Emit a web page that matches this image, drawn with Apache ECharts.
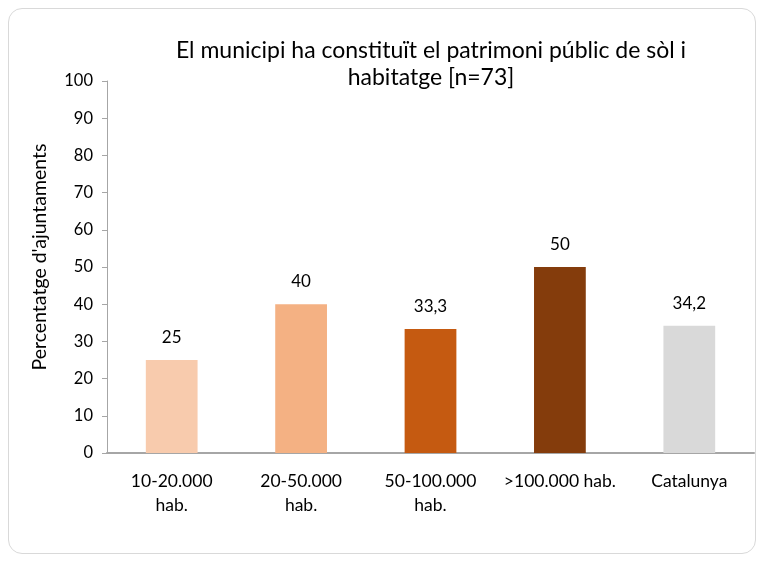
<!DOCTYPE html>
<html>
<head>
<meta charset="utf-8">
<script src="https://cdn.jsdelivr.net/npm/echarts@6/dist/echarts.min.js"></script>
<style>
    html,body{margin:0;padding:0;background:#fff;}
    #frame{position:absolute;left:8px;top:8px;width:746px;height:544px;border:1px solid #d9d9d9;border-radius:14px;}
    #chart{position:absolute;left:0;top:0;width:758px;height:561px;}
</style>
</head>
<body>
<div id="frame"></div>
<div id="chart"></div>
<script>
var categories = ["10-20.000\nhab.", "20-50.000\nhab.", "50-100.000\nhab.", ">100.000 hab.", "Catalunya"];
var values = [25, 40, 33.3, 50, 34.2];
var barColors = ["#F8CBAD", "#F4B183", "#C55A11", "#843C0C", "#D9D9D9"];
var yTicks = [0, 10, 20, 30, 40, 50, 60, 70, 80, 90, 100];

var fontName = "Lato";
var chart = echarts.init(document.getElementById('chart'));

var seriesData = [];
for(var i=0;i<values.length;i++){
    seriesData.push({value: values[i], itemStyle: {color: barColors[i]}});
}

var option = {
    animation: false,
    textStyle: {fontFamily: fontName},
    title: {
        text: "El municipi ha constituït el patrimoni públic de sòl i\nhabitatge [n=73]",
        left: 426,
        top: 32,
        textAlign: 'center',
        textStyle: {fontSize: 23, fontWeight: 'normal', color: '#000', lineHeight: 27, fontFamily: fontName}
    },
    grid: {left: 107, right: 4, top: 81, bottom: 108},
    xAxis: {
        type: 'category',
        data: categories,
        axisLine: {lineStyle: {color: '#a6a6a6', width: 2}},
        axisTick: {show: false},
        axisLabel: {fontSize: 17.5, color: '#000', margin: 16, lineHeight: 24, interval: 0}
    },
    yAxis: {
        type: 'value',
        min: yTicks[0],
        max: yTicks[yTicks.length-1],
        interval: 10,
        name: "Percentatge d'ajuntaments",
        nameLocation: 'middle',
        nameGap: 57,
        nameTextStyle: {fontSize: 19.5, color: '#000', padding: [0, 0, 0, 20]},
        axisLine: {show: true, lineStyle: {color: '#a6a6a6'}},
        axisTick: {show: true, length: 5, lineStyle: {color: '#a6a6a6'}},
        splitLine: {show: false},
        axisLabel: {fontSize: 16.5, color: '#000', margin: 14}
    },
    series: [{
        type: 'bar',
        data: seriesData,
        barWidth: '40%',
        label: {
            show: true,
            position: 'top',
            distance: 14,
            fontSize: 17,
            color: '#000',
            formatter: function(p){ return String(p.value).replace('.', ','); }
        }
    }]
};
chart.setOption(option);
</script>
</body>
</html>
